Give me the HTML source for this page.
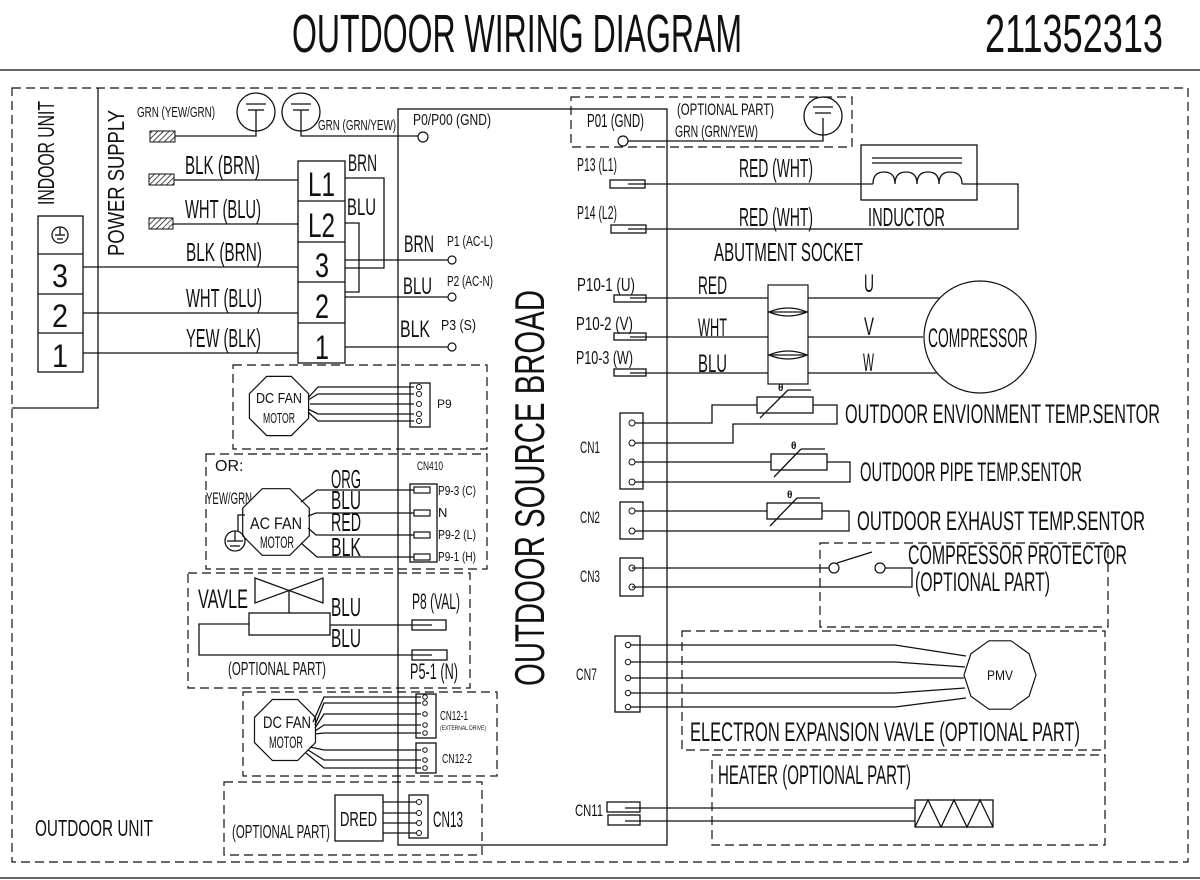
<!DOCTYPE html>
<html><head><meta charset="utf-8"><style>
html,body{margin:0;padding:0;background:#fff}
svg{display:block}
text{font-family:"Liberation Sans Narrow","Liberation Sans",sans-serif;fill:#111}
.l{stroke:#111;stroke-width:1.3;fill:none}
.d{stroke:#111;stroke-width:1.2;fill:none;stroke-dasharray:9 5}
.w{fill:#fff;stroke:#111;stroke-width:1.2}
</style></head><body>
<svg width="1200" height="880" viewBox="0 0 1200 880" xmlns="http://www.w3.org/2000/svg">
<defs>
<pattern id="h" width="4" height="4" patternUnits="userSpaceOnUse" patternTransform="rotate(45)"><line x1="0" y1="0" x2="0" y2="4" stroke="#111" stroke-width="1.5"/></pattern>
</defs>
<!-- title -->
<text x="292" y="52" font-size="54" textLength="450" lengthAdjust="spacingAndGlyphs">OUTDOOR WIRING DIAGRAM</text>
<text x="985" y="52" font-size="54" textLength="178" lengthAdjust="spacingAndGlyphs">211352313</text>
<line x1="0" y1="70" x2="1200" y2="70" stroke="#666" stroke-width="2"/>
<line x1="0" y1="878" x2="1200" y2="878" stroke="#666" stroke-width="2"/>
<rect x="12" y="88" width="1176" height="774" class="d"/>

<!-- indoor unit -->
<polyline points="98,88 98,408 12,408" class="l"/>
<text transform="translate(54,205) rotate(-90)" font-size="23" textLength="104" lengthAdjust="spacingAndGlyphs">INDOOR UNIT</text>
<text transform="translate(124,256) rotate(-90)" font-size="23" textLength="146" lengthAdjust="spacingAndGlyphs">POWER SUPPLY</text>
<rect x="38" y="216" width="45" height="156" class="l"/>
<line x1="38" y1="254" x2="83" y2="254" class="l"/><line x1="38" y1="294" x2="83" y2="294" class="l"/><line x1="38" y1="333" x2="83" y2="333" class="l"/>
<circle cx="60" cy="235" r="8" class="l"/><line x1="55" y1="235" x2="65" y2="235" class="l"/><line x1="57" y1="239" x2="63" y2="239" class="l"/><line x1="60" y1="227" x2="60" y2="235" class="l"/>
<text x="52" y="287" font-size="32" textLength="16" lengthAdjust="spacingAndGlyphs">3</text>
<text x="52" y="327" font-size="32" textLength="16" lengthAdjust="spacingAndGlyphs">2</text>
<text x="52" y="367" font-size="32" textLength="16" lengthAdjust="spacingAndGlyphs">1</text>

<!-- ground connectors -->
<rect x="150" y="131" width="25" height="11" fill="url(#h)" stroke="#111"/>
<rect x="149" y="174" width="25" height="11" fill="url(#h)" stroke="#111"/>
<rect x="149" y="218" width="24" height="11" fill="url(#h)" stroke="#111"/>
<text x="137" y="117" font-size="15" textLength="78" lengthAdjust="spacingAndGlyphs">GRN (YEW/GRN)</text>
<circle cx="256" cy="112" r="19" class="l"/><line x1="246" y1="104" x2="266" y2="104" class="l"/><line x1="248" y1="110" x2="264" y2="110" class="l"/>
<polyline points="175,136 256,136 256,110" class="l"/>
<circle cx="301" cy="112" r="19" class="l"/><line x1="291" y1="104" x2="311" y2="104" class="l"/><line x1="293" y1="110" x2="309" y2="110" class="l"/>
<polyline points="301,110 301,136 418,136" class="l"/>
<circle cx="423" cy="137" r="5" class="w"/>
<text x="318" y="130" font-size="15" textLength="78" lengthAdjust="spacingAndGlyphs">GRN (GRN/YEW)</text>

<!-- terminal block -->
<rect x="298" y="161" width="47" height="202" class="l"/>
<line x1="298" y1="201" x2="345" y2="201" class="l"/><line x1="298" y1="242" x2="345" y2="242" class="l"/><line x1="298" y1="282" x2="345" y2="282" class="l"/><line x1="298" y1="323" x2="345" y2="323" class="l"/>
<text x="308" y="196" font-size="34" textLength="27" lengthAdjust="spacingAndGlyphs">L1</text>
<text x="308" y="237" font-size="34" textLength="27" lengthAdjust="spacingAndGlyphs">L2</text>
<text x="315" y="277" font-size="34" textLength="14" lengthAdjust="spacingAndGlyphs">3</text>
<text x="315" y="318" font-size="34" textLength="14" lengthAdjust="spacingAndGlyphs">2</text>
<text x="315" y="359" font-size="34" textLength="14" lengthAdjust="spacingAndGlyphs">1</text>
<line x1="174" y1="180" x2="298" y2="180" class="l"/>
<line x1="173" y1="224" x2="298" y2="224" class="l"/>
<line x1="83" y1="267" x2="298" y2="267" class="l"/>
<line x1="83" y1="313" x2="298" y2="313" class="l"/>
<line x1="83" y1="353" x2="298" y2="353" class="l"/>
<text x="185" y="174" font-size="26" textLength="75" lengthAdjust="spacingAndGlyphs">BLK (BRN)</text>
<text x="185" y="218" font-size="26" textLength="76" lengthAdjust="spacingAndGlyphs">WHT (BLU)</text>
<text x="186" y="261" font-size="26" textLength="76" lengthAdjust="spacingAndGlyphs">BLK (BRN)</text>
<text x="186" y="307" font-size="26" textLength="76" lengthAdjust="spacingAndGlyphs">WHT (BLU)</text>
<text x="186" y="347" font-size="26" textLength="75" lengthAdjust="spacingAndGlyphs">YEW (BLK)</text>
<polyline points="345,178 384,178 384,268 345,268" class="l"/>
<polyline points="345,223 359,223 359,292 345,292" class="l"/>
<text x="348" y="171" font-size="24" textLength="29" lengthAdjust="spacingAndGlyphs">BRN</text>
<text x="347" y="215" font-size="24" textLength="29" lengthAdjust="spacingAndGlyphs">BLU</text>
<line x1="345" y1="260" x2="448" y2="260" class="l"/><circle cx="452" cy="260" r="4" class="w"/>
<line x1="345" y1="297" x2="448" y2="297" class="l"/><circle cx="452" cy="297" r="4" class="w"/>
<line x1="345" y1="347" x2="448" y2="347" class="l"/><circle cx="452" cy="347" r="4" class="w"/>
<text x="404" y="252" font-size="24" textLength="30" lengthAdjust="spacingAndGlyphs">BRN</text>
<text x="447" y="246" font-size="15" textLength="46" lengthAdjust="spacingAndGlyphs">P1 (AC-L)</text>
<text x="403" y="294" font-size="24" textLength="29" lengthAdjust="spacingAndGlyphs">BLU</text>
<text x="447" y="286" font-size="15" textLength="46" lengthAdjust="spacingAndGlyphs">P2 (AC-N)</text>
<text x="400" y="337" font-size="24" textLength="30" lengthAdjust="spacingAndGlyphs">BLK</text>
<text x="441" y="330" font-size="15" textLength="35" lengthAdjust="spacingAndGlyphs">P3 (S)</text>

<!-- board -->
<rect x="398" y="109" width="269" height="736" class="l"/>
<text x="413" y="125" font-size="16" textLength="78" lengthAdjust="spacingAndGlyphs">P0/P00 (GND)</text>
<text transform="translate(544,686) rotate(-90)" font-size="42" textLength="396" lengthAdjust="spacingAndGlyphs">OUTDOOR SOURCE BROAD</text>

<!-- DC fan P9 -->
<rect x="233" y="365" width="254" height="84" class="d"/>
<polygon points="308.6,418.3 291.3,435.6 266.7,435.6 249.4,418.3 249.4,393.7 266.7,376.4 291.3,376.4 308.6,393.7" class="w"/>
<text x="256" y="403" font-size="15" textLength="46" lengthAdjust="spacingAndGlyphs">DC  FAN</text>
<text x="263" y="423" font-size="15" textLength="32" lengthAdjust="spacingAndGlyphs">MOTOR</text>
<rect x="410" y="383" width="20" height="44" class="l"/>
<g class="l">
<polyline points="308,398 318,387 414,387"/><polyline points="308,400 318,394 414,394"/><line x1="310" y1="404" x2="414" y2="404"/><polyline points="308,409 318,414 414,414"/><polyline points="308,412 318,421 414,421"/>
</g>
<g fill="#fff" stroke="#111"><circle cx="419" cy="387" r="2.5"/><circle cx="419" cy="394" r="2.5"/><circle cx="419" cy="404" r="2.5"/><circle cx="419" cy="414" r="2.5"/><circle cx="419" cy="421" r="2.5"/></g>
<text x="437" y="408" font-size="12">P9</text>

<!-- AC fan -->
<rect x="206" y="454" width="281" height="115" class="d"/>
<text x="215" y="471" font-size="16">OR:</text>
<text x="417" y="470" font-size="12" textLength="26" lengthAdjust="spacingAndGlyphs">CN410</text>
<text x="206" y="504" font-size="17" textLength="46" lengthAdjust="spacingAndGlyphs">YEW/GRN</text>
<polygon points="309.3,535.8 289.8,555.3 262.2,555.3 242.7,535.8 242.7,508.2 262.2,488.7 289.8,488.7 309.3,508.2" class="w"/>
<text x="250" y="529" font-size="17" textLength="52" lengthAdjust="spacingAndGlyphs">AC  FAN</text>
<text x="260" y="548" font-size="17" textLength="34" lengthAdjust="spacingAndGlyphs">MOTOR</text>
<polyline points="245,515 238,515 238,531" class="l"/>
<circle cx="235" cy="541" r="10" class="l"/><line x1="227" y1="541" x2="243" y2="541" class="l"/><line x1="230" y1="546" x2="240" y2="546" class="l"/><line x1="235" y1="531" x2="235" y2="541" class="l"/>
<text x="331" y="488" font-size="26" textLength="30" lengthAdjust="spacingAndGlyphs">ORG</text>
<text x="331" y="509" font-size="26" textLength="30" lengthAdjust="spacingAndGlyphs">BLU</text>
<text x="331" y="531" font-size="26" textLength="30" lengthAdjust="spacingAndGlyphs">RED</text>
<text x="331" y="556" font-size="26" textLength="30" lengthAdjust="spacingAndGlyphs">BLK</text>
<g class="l">
<polyline points="301,502 317,490 415,490"/><polyline points="308,516 316,513 415,513"/><polyline points="308,528 316,535 415,535"/><polyline points="301,543 317,557 415,557"/>
</g>
<rect x="410" y="484" width="27" height="78" class="l"/>
<g class="w"><rect x="414" y="487" width="16" height="6"/><rect x="414" y="510" width="16" height="6"/><rect x="414" y="532" width="16" height="6"/><rect x="414" y="554" width="16" height="6"/></g>
<text x="438" y="495" font-size="13" textLength="38" lengthAdjust="spacingAndGlyphs">P9-3 (C)</text>
<text x="438" y="517" font-size="13">N</text>
<text x="438" y="539" font-size="13" textLength="38" lengthAdjust="spacingAndGlyphs">P9-2 (L)</text>
<text x="438" y="561" font-size="13" textLength="38" lengthAdjust="spacingAndGlyphs">P9-1 (H)</text>

<!-- valve -->
<rect x="188" y="573" width="282" height="115" class="d"/>
<text x="198" y="608" font-size="27" textLength="50" lengthAdjust="spacingAndGlyphs">VAVLE</text>
<polygon points="255,578 323,603 323,578 255,603" class="l"/>
<line x1="289" y1="590" x2="289" y2="613" class="l"/>
<rect x="249" y="613" width="81" height="22" class="l"/>
<text x="331" y="616" font-size="26" textLength="30" lengthAdjust="spacingAndGlyphs">BLU</text>
<text x="331" y="647" font-size="26" textLength="30" lengthAdjust="spacingAndGlyphs">BLU</text>
<line x1="330" y1="625" x2="432" y2="625" class="l"/>
<polyline points="249,624 199,624 199,655 432,655" class="l"/>
<rect x="412" y="620" width="34" height="10" class="l"/>
<rect x="412" y="650" width="35" height="10" class="l"/>
<text x="412" y="609" font-size="22" textLength="48" lengthAdjust="spacingAndGlyphs">P8 (VAL)</text>
<text x="410" y="679" font-size="22" textLength="48" lengthAdjust="spacingAndGlyphs">P5-1 (N)</text>
<text x="228" y="675" font-size="18" textLength="98" lengthAdjust="spacingAndGlyphs">(OPTIONAL PART)</text>

<!-- DC fan 2 -->
<rect x="243" y="692" width="254" height="84" class="d"/>
<polygon points="315.5,742.6 297.6,760.5 272.4,760.5 254.5,742.6 254.5,717.4 272.4,699.5 297.6,699.5 315.5,717.4" class="w"/>
<text x="263" y="728" font-size="17" textLength="48" lengthAdjust="spacingAndGlyphs">DC  FAN</text>
<text x="269" y="748" font-size="17" textLength="34" lengthAdjust="spacingAndGlyphs">MOTOR</text>
<g class="l">
<polyline points="313,722 324,697 421,697"/><polyline points="315,725 324,703 421,703"/><polyline points="315,728 324,714 421,714"/><polyline points="315,731 324,725 421,725"/><polyline points="315,734 324,733 421,733"/>
<polyline points="310,747 324,750 421,750"/><polyline points="308,750 324,760 421,760"/><polyline points="306,753 324,768 421,768"/>
</g>
<rect x="416" y="694" width="20" height="44" class="l"/>
<rect x="416" y="743" width="20" height="30" class="l"/>
<g fill="#fff" stroke="#111"><circle cx="425" cy="697" r="2.3"/><circle cx="425" cy="703" r="2.3"/><circle cx="425" cy="714" r="2.3"/><circle cx="425" cy="725" r="2.3"/><circle cx="425" cy="733" r="2.3"/><circle cx="425" cy="750" r="2.3"/><circle cx="425" cy="760" r="2.3"/><circle cx="425" cy="768" r="2.3"/></g>
<text x="440" y="720" font-size="13" textLength="28" lengthAdjust="spacingAndGlyphs">CN12-1</text>
<text x="440" y="730" font-size="6" textLength="46" lengthAdjust="spacingAndGlyphs">(EXTERNAL DRIVE)</text>
<text x="442" y="763" font-size="13" textLength="30" lengthAdjust="spacingAndGlyphs">CN12-2</text>

<!-- DRED -->
<rect x="224" y="782" width="258" height="73" class="d"/>
<rect x="335" y="795" width="48" height="46" class="l"/>
<text x="340" y="826" font-size="20" textLength="37" lengthAdjust="spacingAndGlyphs">DRED</text>
<rect x="409" y="795" width="19" height="43" class="l"/>
<g class="l"><line x1="383" y1="802" x2="416" y2="802"/><line x1="383" y1="813" x2="416" y2="813"/><line x1="383" y1="823" x2="416" y2="823"/><line x1="383" y1="833" x2="416" y2="833"/></g>
<g fill="#fff" stroke="#111"><circle cx="419" cy="802" r="2.5"/><circle cx="419" cy="813" r="2.5"/><circle cx="419" cy="823" r="2.5"/><circle cx="419" cy="833" r="2.5"/></g>
<text x="433" y="827" font-size="22" textLength="30" lengthAdjust="spacingAndGlyphs">CN13</text>
<text x="232" y="838" font-size="18" textLength="98" lengthAdjust="spacingAndGlyphs">(OPTIONAL PART)</text>
<text x="35" y="836" font-size="23" textLength="118" lengthAdjust="spacingAndGlyphs">OUTDOOR UNIT</text>

<!-- right side: P01 -->
<rect x="571" y="97" width="281" height="50" class="d"/>
<text x="587" y="127" font-size="18" textLength="57" lengthAdjust="spacingAndGlyphs">P01 (GND)</text>
<circle cx="623" cy="141" r="5" class="w"/>
<polyline points="628,141 823,141 823,118" class="l"/>
<circle cx="823" cy="116" r="19" class="l"/><line x1="813" y1="107" x2="833" y2="107" class="l"/><line x1="815" y1="113" x2="831" y2="113" class="l"/>
<text x="677" y="115" font-size="17" textLength="97" lengthAdjust="spacingAndGlyphs">(OPTIONAL PART)</text>
<text x="675" y="137" font-size="17" textLength="83" lengthAdjust="spacingAndGlyphs">GRN (GRN/YEW)</text>

<!-- inductor -->
<text x="577" y="171" font-size="18" textLength="40" lengthAdjust="spacingAndGlyphs">P13 (L1)</text>
<text x="577" y="219" font-size="18" textLength="40" lengthAdjust="spacingAndGlyphs">P14 (L2)</text>
<rect x="610" y="180" width="35" height="8" class="l"/>
<rect x="611" y="225" width="35" height="8" class="l"/>
<polyline points="628,184 873,184" class="l"/>
<rect x="861" y="145" width="116" height="55" class="l"/>
<line x1="872" y1="158" x2="962" y2="158" class="l"/><line x1="872" y1="163" x2="962" y2="163" class="l"/>
<path d="M873,184 Q873,172 884,172 Q895,172 895,184 Q895,172 906,172 Q917,172 917,184 Q917,172 928,172 Q939,172 939,184 Q939,172 950,172 Q962,172 962,184" class="l"/>
<polyline points="962,184 1018,184 1018,229 628,229" class="l"/>
<text x="739" y="177" font-size="26" textLength="74" lengthAdjust="spacingAndGlyphs">RED (WHT)</text>
<text x="739" y="226" font-size="26" textLength="74" lengthAdjust="spacingAndGlyphs">RED (WHT)</text>
<text x="868" y="226" font-size="26" textLength="77" lengthAdjust="spacingAndGlyphs">INDUCTOR</text>
<text x="714" y="261" font-size="26" textLength="149" lengthAdjust="spacingAndGlyphs">ABUTMENT SOCKET</text>

<!-- compressor -->
<text x="577" y="291" font-size="18" textLength="58" lengthAdjust="spacingAndGlyphs">P10-1 (U)</text>
<text x="576" y="330" font-size="18" textLength="57" lengthAdjust="spacingAndGlyphs">P10-2 (V)</text>
<text x="576" y="364" font-size="18" textLength="57" lengthAdjust="spacingAndGlyphs">P10-3 (W)</text>
<rect x="614" y="295" width="32" height="7" class="l"/>
<rect x="614" y="333" width="32" height="7" class="l"/>
<rect x="614" y="369" width="32" height="7" class="l"/>
<line x1="630" y1="298" x2="940" y2="298" class="l"/>
<line x1="630" y1="337" x2="923" y2="337" class="l"/>
<line x1="630" y1="373" x2="940" y2="373" class="l"/>
<rect x="768" y="285" width="40" height="99" class="w"/>
<path d="M769,312 Q788,304 807,312 Q788,320 769,312 Z" class="l"/>
<path d="M769,355 Q788,347 807,355 Q788,363 769,355 Z" class="l"/>
<line x1="769" y1="312" x2="807" y2="312" class="l"/><line x1="769" y1="355" x2="807" y2="355" class="l"/>
<text x="698" y="294" font-size="25" textLength="29" lengthAdjust="spacingAndGlyphs">RED</text>
<text x="698" y="336" font-size="25" textLength="29" lengthAdjust="spacingAndGlyphs">WHT</text>
<text x="698" y="372" font-size="25" textLength="29" lengthAdjust="spacingAndGlyphs">BLU</text>
<text x="864" y="292" font-size="25" textLength="10" lengthAdjust="spacingAndGlyphs">U</text>
<text x="864" y="335" font-size="25" textLength="10" lengthAdjust="spacingAndGlyphs">V</text>
<text x="863" y="371" font-size="25" textLength="11" lengthAdjust="spacingAndGlyphs">W</text>
<circle cx="980" cy="337" r="56" class="w"/>
<text x="928" y="347" font-size="27" textLength="100" lengthAdjust="spacingAndGlyphs">COMPRESSOR</text>

<!-- sensors -->
<text x="580" y="453" font-size="17" textLength="20" lengthAdjust="spacingAndGlyphs">CN1</text>
<text x="580" y="523" font-size="17" textLength="20" lengthAdjust="spacingAndGlyphs">CN2</text>
<text x="580" y="582" font-size="17" textLength="20" lengthAdjust="spacingAndGlyphs">CN3</text>
<rect x="620" y="413" width="23" height="76" class="l"/>
<rect x="620" y="502" width="23" height="37" class="l"/>
<rect x="620" y="558" width="23" height="38" class="l"/>
<g class="l">
<polyline points="632,423 712,423 712,405 757,405"/>
<rect x="757" y="397" width="56" height="16"/>
<polyline points="813,405 837,405 837,424 733,424 733,443 632,443"/>
<line x1="760" y1="418" x2="788" y2="390"/><line x1="788" y1="390" x2="811" y2="390"/>
<line x1="632" y1="462" x2="771" y2="462"/>
<rect x="771" y="454" width="56" height="16"/>
<polyline points="827,462 850,462 850,482 632,482"/>
<line x1="774" y1="477" x2="801" y2="449"/><line x1="801" y1="449" x2="825" y2="449"/>
<line x1="632" y1="511" x2="767" y2="511"/>
<rect x="767" y="503" width="55" height="16"/>
<polyline points="822,511 849,511 849,531 632,531"/>
<line x1="770" y1="526" x2="797" y2="498"/><line x1="797" y1="498" x2="820" y2="498"/>
</g>
<g fill="#fff" stroke="#111"><circle cx="632" cy="423" r="3"/><circle cx="632" cy="443" r="3"/><circle cx="632" cy="462" r="3"/><circle cx="632" cy="482" r="3"/><circle cx="632" cy="511" r="3"/><circle cx="632" cy="531" r="3"/><circle cx="632" cy="568" r="3"/><circle cx="632" cy="587" r="3"/></g>
<text x="778" y="391" font-size="10" font-weight="bold">θ</text>
<text x="791" y="449" font-size="10" font-weight="bold">θ</text>
<text x="787" y="498" font-size="10" font-weight="bold">θ</text>
<text x="845" y="423" font-size="27" textLength="315" lengthAdjust="spacingAndGlyphs">OUTDOOR ENVIONMENT TEMP.SENTOR</text>
<text x="860" y="481" font-size="27" textLength="222" lengthAdjust="spacingAndGlyphs">OUTDOOR PIPE TEMP.SENTOR</text>
<text x="857" y="530" font-size="27" textLength="288" lengthAdjust="spacingAndGlyphs">OUTDOOR EXHAUST TEMP.SENTOR</text>

<!-- protector -->
<rect x="820" y="543" width="288" height="84" class="d"/>
<line x1="632" y1="568" x2="829" y2="568" class="l"/>
<circle cx="834" cy="568" r="5" class="w"/>
<line x1="837" y1="563" x2="872" y2="552" class="l"/>
<circle cx="880" cy="568" r="5" class="w"/>
<polyline points="885,568 912,568 912,587 632,587" class="l"/>
<text x="908" y="564" font-size="27" textLength="219" lengthAdjust="spacingAndGlyphs">COMPRESSOR PROTECTOR</text>
<text x="915" y="591" font-size="27" textLength="135" lengthAdjust="spacingAndGlyphs">(OPTIONAL PART)</text>

<!-- PMV -->
<text x="576" y="680" font-size="17" textLength="21" lengthAdjust="spacingAndGlyphs">CN7</text>
<rect x="682" y="631" width="423" height="119" class="d"/>
<rect x="615" y="636" width="25" height="76" class="l"/>
<g class="l">
<polyline points="628,645 895,645 966,656"/><polyline points="628,662 895,662 965,667"/><line x1="628" y1="678" x2="964" y2="678"/><polyline points="628,693 895,693 965,688"/><polyline points="628,707 895,707 966,698"/>
</g>
<g fill="#fff" stroke="#111"><circle cx="628" cy="645" r="2.7"/><circle cx="628" cy="662" r="2.7"/><circle cx="628" cy="678" r="2.7"/><circle cx="628" cy="693" r="2.7"/><circle cx="628" cy="707" r="2.7"/></g>
<polygon points="1036,675 1029.1,696.2 1011.1,709.2 988.9,709.2 970.9,696.2 964,675 970.9,653.8 988.9,640.8 1011.1,640.8 1029.1,653.8" class="w"/>
<text x="987" y="680" font-size="14" font-family="Liberation Sans" textLength="26" lengthAdjust="spacingAndGlyphs">PMV</text>
<text x="690" y="741" font-size="27" textLength="390" lengthAdjust="spacingAndGlyphs">ELECTRON EXPANSION VAVLE (OPTIONAL PART)</text>

<!-- heater -->
<rect x="712" y="755" width="393" height="90" class="d"/>
<text x="718" y="784" font-size="27" textLength="193" lengthAdjust="spacingAndGlyphs">HEATER (OPTIONAL PART)</text>
<text x="575" y="816" font-size="17" textLength="28" lengthAdjust="spacingAndGlyphs">CN11</text>
<rect x="607" y="802" width="33" height="10" class="l"/>
<rect x="608" y="815" width="32" height="10" class="l"/>
<line x1="625" y1="808" x2="915" y2="808" class="l"/>
<line x1="625" y1="821" x2="915" y2="821" class="l"/>
<rect x="915" y="800" width="78" height="27" class="l"/>
<polyline points="915,827 928,800 941,827 954,800 967,827 980,800 993,827" class="l"/>
</svg>
</body></html>
